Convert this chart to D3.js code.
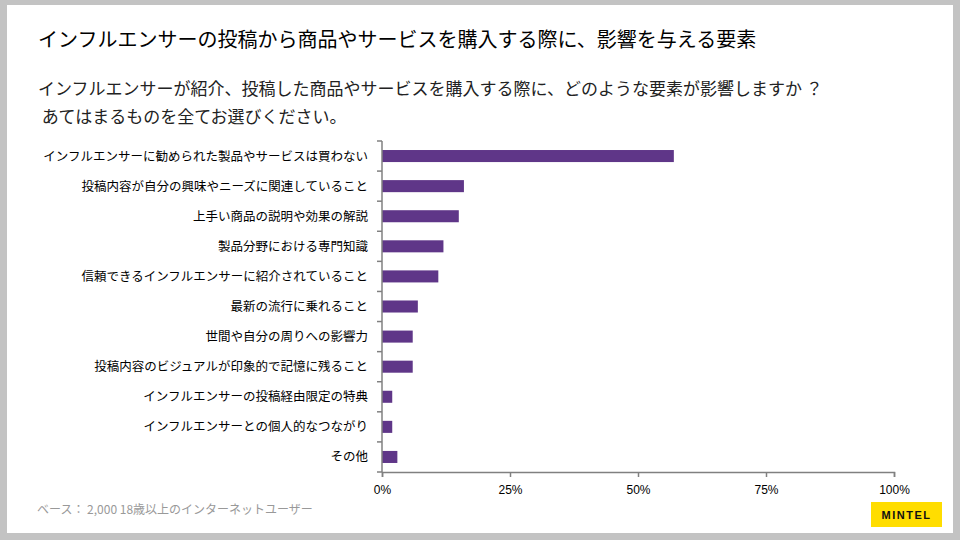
<!DOCTYPE html>
<html><head><meta charset="utf-8">
<script src="https://cdn.jsdelivr.net/npm/d3@7/dist/d3.min.js"></script>
<style>
html,body{margin:0;padding:0;background:#c3c3c3;}
svg{display:block;}
</style></head>
<body>
<svg id="c" width="960" height="540"></svg>
<script>
const categories = [
  "インフルエンサーに勧められた製品やサービスは買わない",
  "投稿内容が自分の興味やニーズに関連していること",
  "上手い商品の説明や効果の解説",
  "製品分野における専門知識",
  "信頼できるインフルエンサーに紹介されていること",
  "最新の流行に乗れること",
  "世間や自分の周りへの影響力",
  "投稿内容のビジュアルが印象的で記憶に残ること",
  "インフルエンサーの投稿経由限定の特典",
  "インフルエンサーとの個人的なつながり",
  "その他"
];
const values = [57, 16, 15, 12, 11, 7, 6, 6, 2, 2, 3];
const xTicks = [0, 25, 50, 75, 100];
const titleText = "インフルエンサーの投稿から商品やサービスを購入する際に、影響を与える要素";
const questionLines = [
  "インフルエンサーが紹介、投稿した商品やサービスを購入する際に、どのような要素が影響しますか ？",
  " あてはまるものを全てお選びください。"
];
const baseText = "ベース： 2,000 18歳以上のインターネットユーザー";
const logoText = "MINTEL";

const svg = d3.select("#c");
const jp = "'Noto Sans CJK JP', 'Noto Sans', sans-serif";
const lat = "'Liberation Sans', Arial, sans-serif";

// page
svg.append("rect").attr("x", 7).attr("y", 5).attr("width", 946).attr("height", 528).attr("fill", "#fff");

svg.append("text").attr("x", 38).attr("y", 47).attr("font-family", jp).attr("font-size", 20)
  .attr("fill", "#000").text(titleText);

svg.selectAll("text.q").data(questionLines).join("text").attr("class", "q")
  .attr("x", 38).attr("y", (d, i) => 95 + i * 28).attr("font-family", jp).attr("font-size", 17)
  .attr("fill", "#222").attr("xml:space", "preserve").style("white-space", "pre").text(d => d);

const x = d3.scaleLinear().domain([0, 100]).range([382, 894]);
const y = d3.scaleBand().domain(categories).range([141, 472]).padding(0);
const bh = y.bandwidth() * 0.4;

svg.selectAll("rect.bar").data(values).join("rect").attr("class", "bar")
  .attr("x", x(0)).attr("y", (d, i) => y(categories[i]) + (y.bandwidth() - bh) / 2)
  .attr("width", d => x(d) - x(0)).attr("height", bh).attr("fill", "#5f3688");

// y axis
const g = svg.append("g");
g.append("line").attr("x1", x(0)).attr("x2", x(0)).attr("y1", 141).attr("y2", 472)
  .attr("stroke", "#808080").attr("stroke-width", 1.5);
const bounds = categories.map(c => y(c)).concat([472]);
g.selectAll("line.yt").data(bounds).join("line").attr("class", "yt")
  .attr("x1", x(0) - 5).attr("x2", x(0)).attr("y1", d => d).attr("y2", d => d)
  .attr("stroke", "#808080").attr("stroke-width", 1.5);
g.selectAll("text.yl").data(categories).join("text").attr("class", "yl")
  .attr("x", 368).attr("y", d => y(d) + y.bandwidth() / 2).attr("dy", "0.36em")
  .attr("text-anchor", "end").attr("font-family", jp).attr("font-size", 12.5).attr("fill", "#000")
  .text(d => d);

// x axis
const xa = svg.append("g").attr("transform", "translate(0,472)")
  .call(d3.axisBottom(x).tickValues(xTicks).tickSize(5).tickFormat(d => d + "%"));
xa.select(".domain").attr("stroke", "#808080").attr("stroke-width", 1.5);
xa.selectAll(".tick line").attr("stroke", "#808080").attr("stroke-width", 1.5);
xa.selectAll(".tick text").attr("font-family", lat).attr("font-size", 12).attr("fill", "#000").attr("dy", "1.2em");

svg.append("text").attr("x", 37).attr("y", 514).attr("font-family", jp).attr("font-size", 12)
  .attr("fill", "#999").text(baseText);

svg.append("rect").attr("x", 871).attr("y", 502).attr("width", 71).attr("height", 25).attr("fill", "#ffdd00");
svg.append("text").attr("x", 906.5).attr("y", 518.5).attr("text-anchor", "middle")
  .attr("font-family", lat).attr("font-weight", "bold").attr("font-size", 11).attr("letter-spacing", 1.5)
  .attr("fill", "#111").text(logoText);
</script>
</body></html>
